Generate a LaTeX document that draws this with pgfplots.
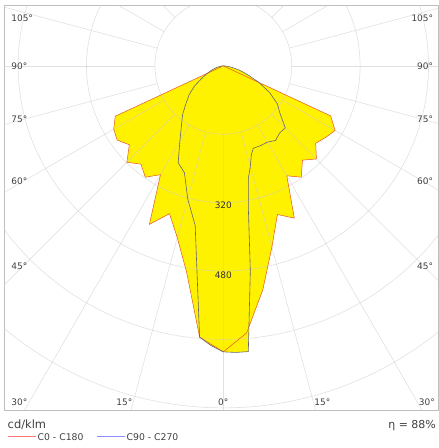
\documentclass[border=0pt]{standalone}
\usepackage{fontspec}
\setmainfont{DejaVu Sans}
\usepackage{pgfplots}
\pgfplotsset{compat=1.18}
\usepackage{pgfplotstable}

\definecolor{czero}{RGB}{230,85,40}
\definecolor{cninety}{RGB}{100,100,120}
\definecolor{frm}{RGB}{190,190,190}
\definecolor{grd}{RGB}{205,205,205}

% signed gamma: negative = C180 / C270 half (left), positive = C0 / C90 half (right)
\pgfplotstableread{
g    I
-90  0
-65  279
-60  296
-55  303
-50  287
-45  319
-40  300
-35  318
-30  294
-25  409
-20  368
-15  416
-10  492
-5   637
0    669
5    627
10   532
15   439
20   370
25   393
30   297
35   318
40   288
45   308
50   282
55   292
60   302
65   277
90   0
}\czerotab

\pgfplotstableread{
g     I
-90   0
-85   4
-80   10
-75   18
-70   29
-65   41
-60   58
-55   82
-50   104
-45   123
-40   148
-35   171
-30   203
-25   250
-20   266
-15   322
-10   379
-7.5  475
-5    637
-2.5  655
0     669
2.5   671
5     671
7.5   484
10    337
12.5  270
15    244
17.5  218
20    205
25    206
30    206
35    213
40    205
45    205
50    173
55    154
60    125
65    92
70    61
75    39
80    20
85    8
90    0
}\cninetytab

\begin{document}
\begin{tikzpicture}[x=1bp,y=1bp]
\useasboundingbox (0,0) rectangle (439,448);
\begin{axis}[
  at={(4bp,38bp)}, anchor=south west,
  x=0.4275bp, y=0.4275bp,
  xmin=-513, xmax=502, ymin=-805, ymax=142,
  axis line style={frm, line width=0.7bp},
  xtick=\empty, ytick=\empty,
  every node/.style={inner sep=0pt},
]
% fills first
\addplot[fill=yellow, draw=none, data cs=polar]
  table[x expr=\thisrow{g}-90, y=I] {\czerotab};
\addplot[fill=yellow, draw=none, data cs=polar]
  table[x expr=\thisrow{g}-90, y=I] {\cninetytab};

% polar grid on top of the fill
\pgfplotsinvokeforeach{160,320,480,640,800}{
  \draw[grd, line width=0.6bp, opacity=0.6] (axis cs:0,0) circle[radius=#1];
}
\pgfplotsinvokeforeach{-180,-165,...,180}{
  \draw[grd, line width=0.6bp, opacity=0.6]
    (axis cs:{160*sin(#1)},{-160*cos(#1)}) -- (axis cs:{1500*sin(#1)},{-1500*cos(#1)});
}

% outlines
\addplot[czero, line width=0.5bp, data cs=polar]
  table[x expr=\thisrow{g}-90, y=I] {\czerotab};
\addplot[cninety, line width=0.6bp, data cs=polar]
  table[x expr=\thisrow{g}-90, y=I] {\cninetytab};

% ring values
\node[font=\fontsize{9}{11}\selectfont, text=black!80] at (axis cs:0,-326) {320};
\node[font=\fontsize{9}{11}\selectfont, text=black!80] at (axis cs:0,-490) {480};

% angle labels
\begin{scope}[font=\fontsize{9}{11}\selectfont, text=black!75]
\node[anchor=west] at (axis cs:-504,111.6) {105°};
\node[anchor=west] at (axis cs:-504,-0.7) {90°};
\node[anchor=west] at (axis cs:-504,-124.7) {75°};
\node[anchor=west] at (axis cs:-504,-269.7) {60°};
\node[anchor=west] at (axis cs:-504,-468.5) {45°};
\node[anchor=east] at (axis cs:499,111.6) {105°};
\node[anchor=east] at (axis cs:499,-0.7) {90°};
\node[anchor=east] at (axis cs:499,-124.7) {75°};
\node[anchor=east] at (axis cs:499,-269.7) {60°};
\node[anchor=east] at (axis cs:499,-468.5) {45°};
\node at (axis cs:-477,-786.7) {30°};
\node at (axis cs:-231.6,-786.7) {15°};
\node at (axis cs:0,-786.7) {0°};
\node at (axis cs:231.6,-786.7) {15°};
\node at (axis cs:476,-786.7) {30°};
\end{scope}
\end{axis}

% unit, legend and efficiency below the frame
\node[anchor=west, inner sep=0pt, font=\fontsize{11.5}{13}\selectfont, text=black!75] at (7.5,23.5) {cd/klm};
\draw[red!55, line width=0.5bp] (8,11.3) -- (35.5,11.3);
\node[anchor=west, inner sep=0pt, font=\fontsize{9.3}{11}\selectfont, text=black!75] at (37.5,11.3) {C0 - C180};
\draw[blue!45, line width=0.5bp] (97,11.3) -- (124.5,11.3);
\node[anchor=west, inner sep=0pt, font=\fontsize{9.3}{11}\selectfont, text=black!75] at (126.5,11.3) {C90 - C270};
\node[anchor=east, inner sep=0pt, font=\fontsize{11}{13}\selectfont, text=black!75] at (436,22.3) {η = 88\%};
\end{tikzpicture}
\end{document}
